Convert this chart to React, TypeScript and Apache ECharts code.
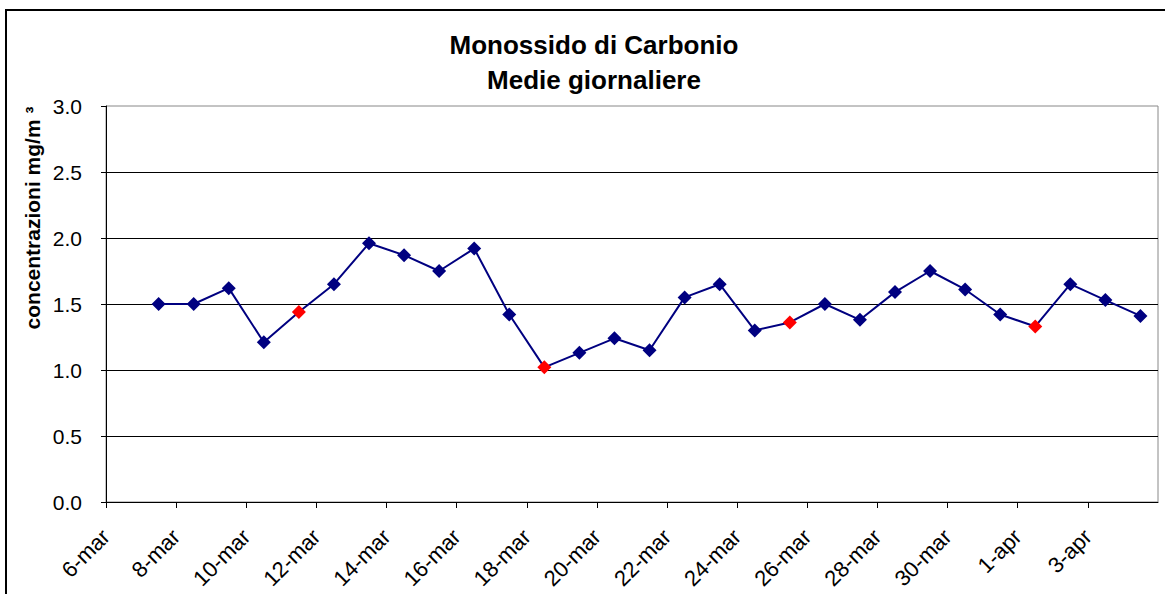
import React, { useEffect, useRef } from "react";
import * as echarts from "echarts";

// Calendar spanned by the horizontal axis (one entry per day)
const axisDays = [
  "6-mar", "7-mar", "8-mar", "9-mar", "10-mar", "11-mar", "12-mar", "13-mar",
  "14-mar", "15-mar", "16-mar", "17-mar", "18-mar", "19-mar", "20-mar", "21-mar",
  "22-mar", "23-mar", "24-mar", "25-mar", "26-mar", "27-mar", "28-mar", "29-mar",
  "30-mar", "31-mar", "1-apr", "2-apr", "3-apr", "4-apr", "5-apr",
];

// Daily means (mg/m3)
const dates = [
  "7-mar", "8-mar", "9-mar", "10-mar", "11-mar", "12-mar", "13-mar", "14-mar",
  "15-mar", "16-mar", "17-mar", "18-mar", "19-mar", "20-mar", "21-mar", "22-mar",
  "23-mar", "24-mar", "25-mar", "26-mar", "27-mar", "28-mar", "29-mar", "30-mar",
  "31-mar", "1-apr", "2-apr", "3-apr", "4-apr",
];
const values = [
  1.5, 1.5, 1.62, 1.21, 1.44, 1.65, 1.96, 1.87,
  1.75, 1.92, 1.42, 1.02, 1.13, 1.24, 1.15, 1.55,
  1.65, 1.3, 1.36, 1.5, 1.38, 1.59, 1.75, 1.61,
  1.42, 1.33, 1.65, 1.53, 1.41,
];
// Days drawn with a red marker
const highlighted = ["11-mar", "18-mar", "25-mar", "1-apr"];

const titleLines = ["Monossido di Carbonio", "Medie giornaliere"];
const yAxisTitle = "concentrazioni mg/m ³";
const yMin = 0;
const yMax = 3;
const yStep = 0.5;
const xStep = 2;

const FONT = "'Liberation Sans', Arial, Helvetica, sans-serif";

export default function App() {
  const ref = useRef<HTMLDivElement>(null);

  useEffect(() => {
    if (!ref.current) return;
    const chart = echarts.init(ref.current, undefined, { renderer: "svg" });

    const data = dates.map((d, i) => {
      const isRed = highlighted.includes(d);
      return {
        value: [axisDays.indexOf(d) + 0.5, values[i]],
        itemStyle: { color: isRed ? "#FF0000" : "#000080" },
      };
    });

    const xMax = axisDays.length - 1;

    chart.setOption({
      animation: false,
      backgroundColor: "#ffffff",
      title: {
        text: titleLines.join("\n"),
        left: 594,
        top: 27,
        textAlign: "center",
        padding: 0,
        textStyle: {
          fontFamily: FONT,
          fontSize: 26,
          fontWeight: "bold",
          color: "#000",
          lineHeight: 35,
        },
      },
      graphic: [
        {
          type: "rect",
          shape: { x: 6, y: 10, width: 1180, height: 620 },
          style: { fill: "none", stroke: "#000", lineWidth: 2 },
          silent: true,
          z: 100,
        },
        {
          type: "text",
          x: 32,
          y: 218,
          rotation: Math.PI / 2,
          style: {
            text: yAxisTitle,
            fontFamily: FONT,
            fontSize: 21,
            fontWeight: "bold",
            fill: "#000",
            align: "center",
            verticalAlign: "middle",
          },
        },
      ],
      grid: {
        left: 106,
        top: 106,
        width: 1052,
        height: 396,
        show: true,
        borderColor: "#888",
        borderWidth: 1,
        backgroundColor: "transparent",
        containLabel: false,
      },
      xAxis: {
        type: "value",
        min: 0,
        max: xMax,
        interval: xStep,
        axisLine: { show: true, onZero: false, lineStyle: { color: "#000", width: 1 } },
        axisTick: { show: true, inside: false, length: 6, lineStyle: { color: "#000" } },
        splitLine: { show: false },
        axisLabel: {
          rotate: 45,
          margin: 31,
          fontFamily: FONT,
          fontSize: 22,
          color: "#000",
          showMaxLabel: false,
          formatter: (v: number) => (v < xMax ? axisDays[v] : ""),
        },
      },
      yAxis: {
        type: "value",
        min: yMin,
        max: yMax,
        interval: yStep,
        axisLine: { show: true, lineStyle: { color: "#000", width: 1 } },
        axisTick: { show: true, inside: false, length: 5, lineStyle: { color: "#000" } },
        splitLine: {
          show: true,
          showMaxLine: false,
          lineStyle: { color: "#000", width: 1 },
        },
        axisLabel: {
          margin: 24,
          fontFamily: FONT,
          fontSize: 21,
          color: "#000",
          formatter: (v: number) => v.toFixed(1),
        },
      },
      series: [
        {
          type: "line",
          data,
          symbol: "diamond",
          symbolSize: 14,
          showAllSymbol: true,
          lineStyle: { color: "#000080", width: 2 },
          itemStyle: { color: "#000080" },
          z: 5,
        },
      ],
    });

    return () => chart.dispose();
  }, []);

  return (
    <div
      ref={ref}
      style={{ position: "absolute", left: 0, top: 0, width: 1165, height: 594 }}
    />
  );
}
